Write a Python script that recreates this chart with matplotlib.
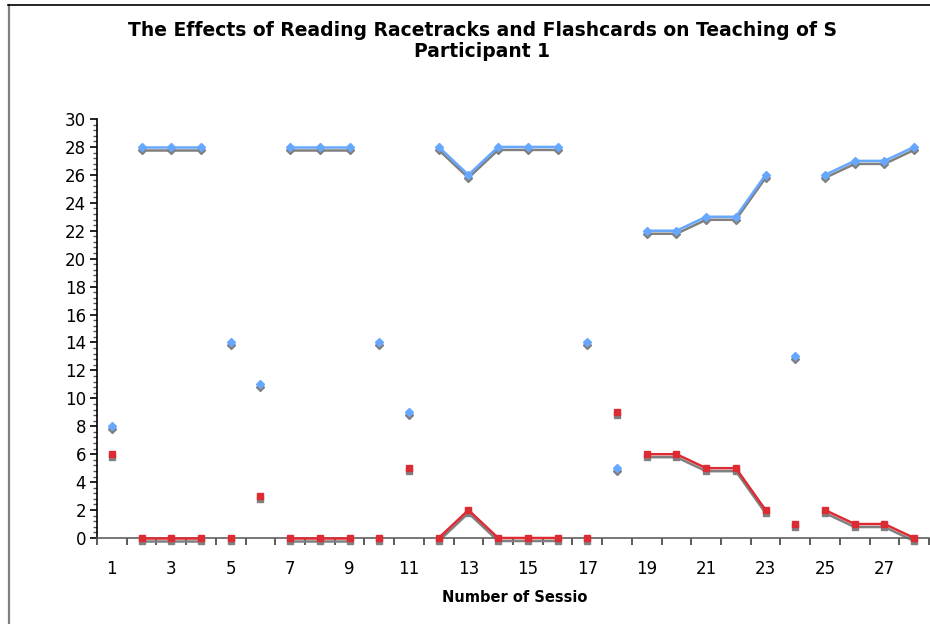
import numpy as np
import matplotlib
matplotlib.use("Agg")
import matplotlib.pyplot as plt
from matplotlib.transforms import ScaledTranslation
from matplotlib.lines import Line2D

sessions = list(range(1, 29))
blue_vals = [8, 28, 28, 28, 14, 11, 28, 28, 28, 14, 9, 28, 26, 28, 28, 28,
             14, 5, 22, 22, 23, 23, 26, 13, 26, 27, 27, 28]
red_vals = [6, 0, 0, 0, 0, 3, 0, 0, 0, 0, 5, 0, 2, 0, 0, 0,
            0, 9, 6, 6, 5, 5, 2, 1, 2, 1, 1, 0]
# sessions that are joined by a line (first, last)
joined = [(2, 4), (7, 9), (12, 16), (19, 23), (25, 28)]

x_labels = [str(s) for s in sessions[::2]]

blue = '#66A8FF'
red = '#DD2B33'
shadow = '#808080'

fig = plt.figure(figsize=(9.3, 6.24), dpi=100)
ax = fig.add_axes([97 / 930, 1 - 538 / 624, 832 / 930, 419 / 624])

shift = ax.transData + ScaledTranslation(0, -0.03, fig.dpi_scale_trans)


def draw_series(vals, color, marker, ms):
    x = np.array(sessions)
    y = np.array(vals, dtype=float)
    for trans, c, z in [(shift, shadow, 2), (ax.transData, color, 3)]:
        for a, b in joined:
            m = (x >= a) & (x <= b)
            ax.plot(x[m], y[m], color=c, lw=1.8, transform=trans, zorder=z,
                    clip_on=False)
        ax.plot(x, y, linestyle='none', marker=marker, ms=ms, color=c,
                mec=c, transform=trans, zorder=z + 0.5, clip_on=False)


draw_series(blue_vals, blue, 'D', 4)
draw_series(red_vals, red, 's', 3.8)

ax.set_xlim(0.5, 28.5)
ax.set_ylim(0, 30)

ax.set_xticks(sessions[::2])
ax.set_xticklabels(x_labels)
ax.set_xticks(np.arange(0.5, 29, 1), minor=True)
ax.tick_params(axis='x', which='major', length=0, pad=16, labelsize=12)
ax.tick_params(axis='x', which='minor', length=5, width=1.2, color='#404040',
               direction='out')

ax.set_yticks(np.arange(0, 31, 2))
ax.set_yticks(np.arange(0, 30.01, 0.4), minor=True)
ax.tick_params(axis='y', which='major', length=5, width=1.2, color='black',
               pad=3, labelsize=12)
ax.tick_params(axis='y', which='minor', length=3, width=1, color='#555555')

for side in ['top', 'right']:
    ax.spines[side].set_visible(False)
ax.spines['left'].set_color('black')
ax.spines['left'].set_linewidth(1.2)
ax.spines['bottom'].set_color('#606060')
ax.spines['bottom'].set_linewidth(1.2)

fig.text(482 / 930, 1 - 41 / 624,
         'The Effects of Reading Racetracks and Flashcards on Teaching of S\nParticipant 1',
         ha='center', va='center', fontsize=13.5, fontweight='bold',
         linespacing=1.15)
fig.text(515 / 930, 1 - 598 / 624, 'Number of Sessio', ha='center',
         va='center', fontsize=10.5, fontweight='bold')

# outer chart border (left and top only are visible)
fig.add_artist(Line2D([8.5 / 930, 8.5 / 930], [0, 1 - 5 / 624],
                      transform=fig.transFigure, color='#808080', lw=1.6))
fig.add_artist(Line2D([8 / 930, 1], [1 - 5 / 624, 1 - 5 / 624],
                      transform=fig.transFigure, color='black', lw=1.2))

fig.savefig('out.png', dpi=100)
